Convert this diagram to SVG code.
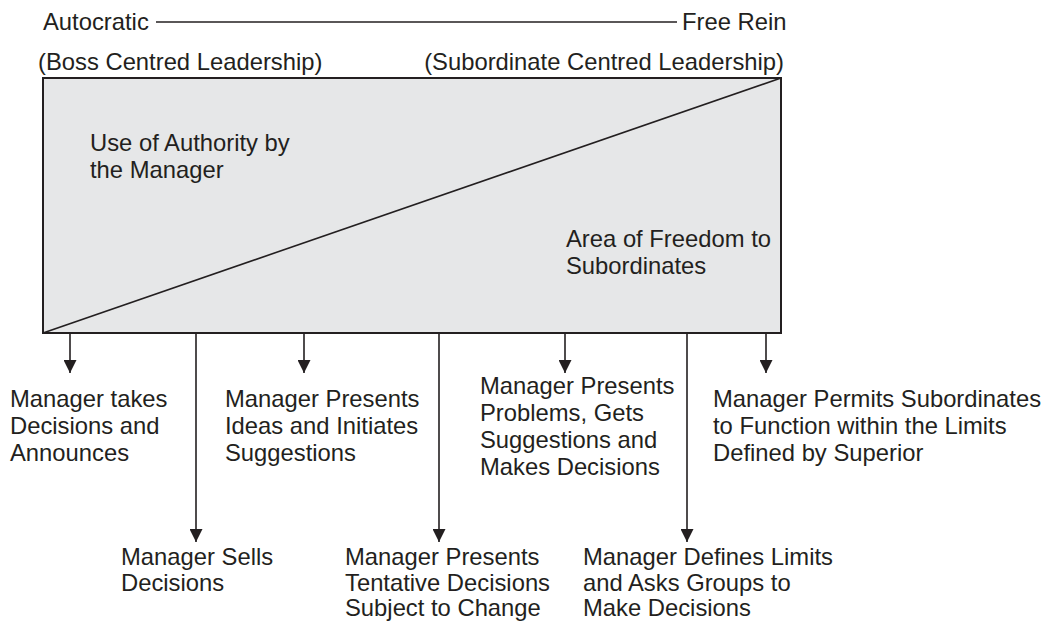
<svg xmlns="http://www.w3.org/2000/svg" width="1045" height="622" viewBox="0 0 1045 622">
<style>
text{font-family:"Liberation Sans",Arial,sans-serif;font-size:23.8px;fill:#231f20}
.ln{stroke:#231f20;stroke-width:1.6;fill:none}
</style>
<defs>
<marker id="ah" markerWidth="13" markerHeight="13" viewBox="0 0 13 13" refX="13" refY="6.5" orient="auto" markerUnits="userSpaceOnUse">
<path d="M0,0 L13,6.5 L0,13 Z" fill="#231f20"/>
</marker>
</defs>
<rect width="1045" height="622" fill="#ffffff"/>
<g id="header">
<text x="43" y="30">Autocratic</text>
<line class="ln" x1="156" y1="22" x2="677" y2="22"/>
<text x="682" y="30">Free Rein</text>
<text x="38" y="70">(Boss Centred Leadership)</text>
<text x="784" y="70" text-anchor="end">(Subordinate Centred Leadership)</text>
</g>
<g id="box">
<rect x="43" y="78" width="738" height="255" fill="#e6e7e8" stroke="#231f20" stroke-width="2"/>
<line class="ln" x1="43" y1="333" x2="781" y2="78"/>
<text x="90" y="151">Use of Authority by</text>
<text x="90" y="178">the Manager</text>
<text x="566" y="247">Area of Freedom to</text>
<text x="566" y="274">Subordinates</text>
</g>
<g id="connectors">
<line class="ln" x1="70" y1="333" x2="70" y2="373" marker-end="url(#ah)"/>
<line class="ln" x1="196" y1="333" x2="196" y2="542" marker-end="url(#ah)"/>
<line class="ln" x1="304" y1="333" x2="304" y2="373" marker-end="url(#ah)"/>
<line class="ln" x1="439" y1="333" x2="439" y2="542" marker-end="url(#ah)"/>
<line class="ln" x1="565" y1="333" x2="565" y2="373" marker-end="url(#ah)"/>
<line class="ln" x1="687" y1="333" x2="687" y2="542" marker-end="url(#ah)"/>
<line class="ln" x1="766" y1="333" x2="766" y2="373" marker-end="url(#ah)"/>
</g>
<g id="n1"><text x="10" y="407">Manager takes</text><text x="10" y="434">Decisions and</text><text x="10" y="461">Announces</text></g>
<g id="n2"><text x="121" y="565">Manager Sells</text><text x="121" y="591">Decisions</text></g>
<g id="n3"><text x="225" y="407">Manager Presents</text><text x="225" y="434">Ideas and Initiates</text><text x="225" y="461">Suggestions</text></g>
<g id="n4"><text x="345" y="565">Manager Presents</text><text x="345" y="591">Tentative Decisions</text><text x="345" y="616">Subject to Change</text></g>
<g id="n5"><text x="480" y="394">Manager Presents</text><text x="480" y="421">Problems, Gets</text><text x="480" y="448">Suggestions and</text><text x="480" y="475">Makes Decisions</text></g>
<g id="n6"><text x="583" y="565">Manager Defines Limits</text><text x="583" y="591">and Asks Groups to</text><text x="583" y="616">Make Decisions</text></g>
<g id="n7"><text x="713" y="407">Manager Permits Subordinates</text><text x="713" y="434">to Function within the Limits</text><text x="713" y="461">Defined by Superior</text></g>
</svg>
